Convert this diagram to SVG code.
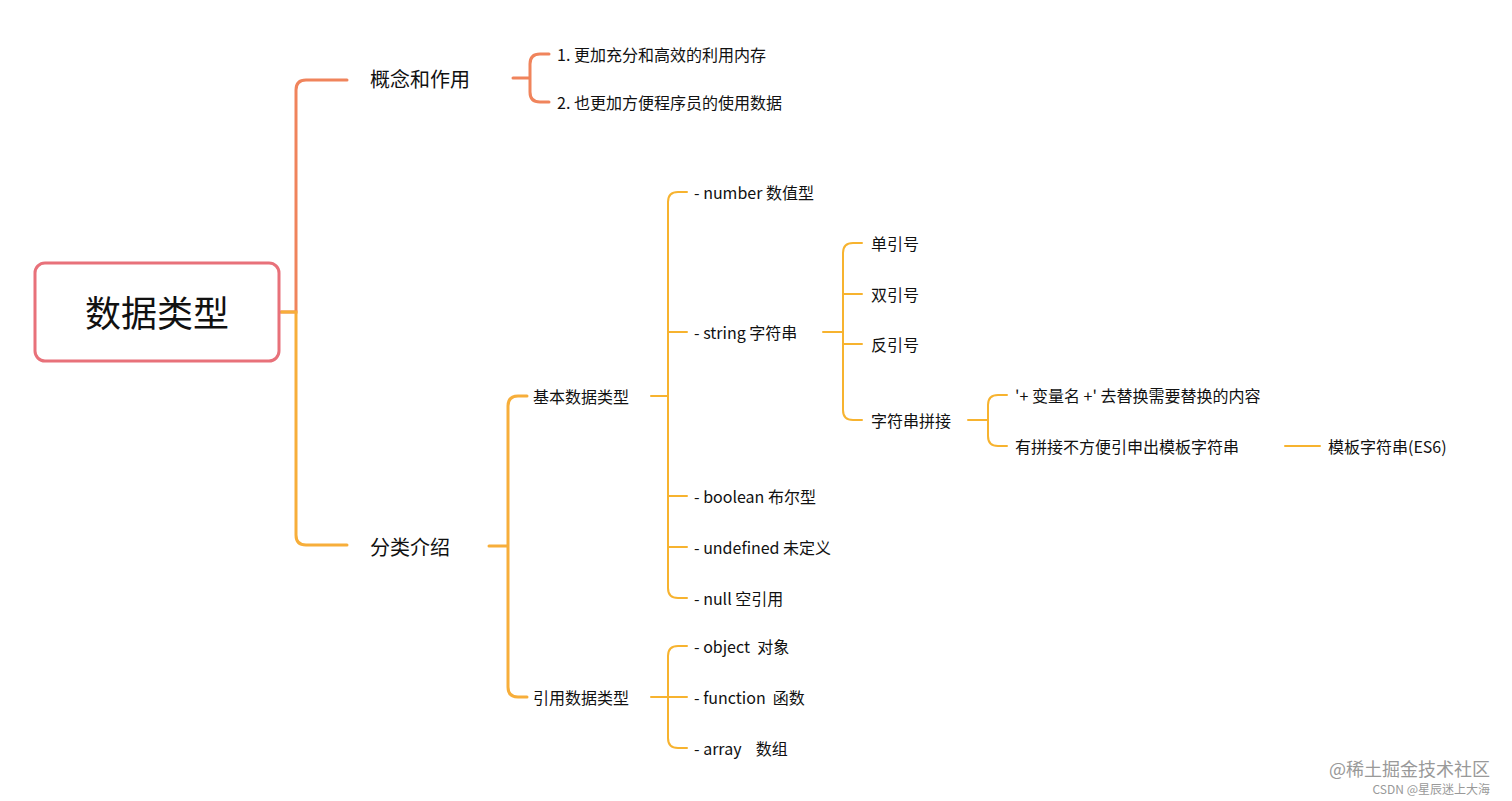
<svg xmlns="http://www.w3.org/2000/svg" width="1512" height="801" viewBox="0 0 1512 801">
<style>
text{font-family:"Noto Sans CJK SC","Noto Sans",sans-serif;fill:#111;dominant-baseline:central}
.t16{font-size:16px}.t20{font-size:20px}
.a{fill:none;stroke:#F0845C;stroke-width:3;stroke-linecap:round}
.b{fill:none;stroke:#F7AE3A;stroke-width:3;stroke-linecap:round}
.c{fill:none;stroke:#F7B32F;stroke-width:2;stroke-linecap:round}
</style>
<rect width="1512" height="801" fill="#fff"/>
<g id="connectors">
<path class="a" d="M281 312H296V90Q296 80 306 80H347"/>
<path class="b" d="M281 312H296V535Q296 545 306 545H347"/>
<path class="a" d="M513 78H530M549 54H540Q530 54 530 64V92Q530 102 540 102H549"/>
<path class="b" d="M489 546H508M527 396H518Q508 396 508 406V687Q508 697 518 697H527"/>
<path class="c" d="M651 396H668M687 192H678Q668 192 668 202V588Q668 598 678 598H687M668 332H687M668 496H687M668 547H687"/>
<path class="c" d="M651 697H668M687 646H678Q668 646 668 656V738Q668 748 678 748H687M668 697H687"/>
<path class="c" d="M823 332H843M862 243H853Q843 243 843 253V410Q843 420 853 420H862M843 294H862M843 344H862"/>
<path class="c" d="M968 420H988M1007 395H998Q988 395 988 405V436Q988 446 998 446H1007"/>
<path class="c" d="M1285 446H1320"/>
</g>
<g id="root"><rect x="35" y="263" width="244" height="98" rx="10" fill="#fff" stroke="#E8717A" stroke-width="3"/>
<text x="157" y="311" font-size="36" text-anchor="middle">数据类型</text></g>
<g id="n1"><text class="t20" x="370" y="78">概念和作用</text></g>
<g id="n1a"><text class="t16" x="557" y="54">1. 更加充分和高效的利用内存</text></g>
<g id="n1b"><text class="t16" x="557" y="102">2. 也更加方便程序员的使用数据</text></g>
<g id="n2"><text class="t20" x="370" y="546">分类介绍</text></g>
<g id="n21"><text class="t16" x="533" y="396">基本数据类型</text></g>
<g id="n22"><text class="t16" x="533" y="697">引用数据类型</text></g>
<g id="p1"><text class="t16" x="694" y="192">- number 数值型</text></g>
<g id="p2"><text class="t16" x="694" y="332">- string 字符串</text></g>
<g id="p3"><text class="t16" x="694" y="496">- boolean 布尔型</text></g>
<g id="p4"><text class="t16" x="694" y="547">- undefined 未定义</text></g>
<g id="p5"><text class="t16" x="694" y="598">- null 空引用</text></g>
<g id="r1"><text class="t16" x="694" y="646" xml:space="preserve">- object  对象</text></g>
<g id="r2"><text class="t16" x="694" y="697" xml:space="preserve">- function  函数</text></g>
<g id="r3"><text class="t16" x="694" y="748" xml:space="preserve">- array    数组</text></g>
<g id="s1"><text class="t16" x="871" y="243">单引号</text></g>
<g id="s2"><text class="t16" x="871" y="294">双引号</text></g>
<g id="s3"><text class="t16" x="871" y="344">反引号</text></g>
<g id="s4"><text class="t16" x="871" y="420">字符串拼接</text></g>
<g id="c1"><text class="t16" x="1015" y="395">'+ 变量名 +' 去替换需要替换的内容</text></g>
<g id="c2"><text class="t16" x="1015" y="446">有拼接不方便引申出模板字符串</text></g>
<g id="c3"><text class="t16" x="1328" y="446">模板字符串(ES6)</text></g>
<text x="1490" y="768" font-size="18" text-anchor="end" style="fill:#999">@稀土掘金技术社区</text>
<text x="1490" y="788" font-size="12" text-anchor="end" style="fill:#999">CSDN @星辰迷上大海</text>
</svg>
